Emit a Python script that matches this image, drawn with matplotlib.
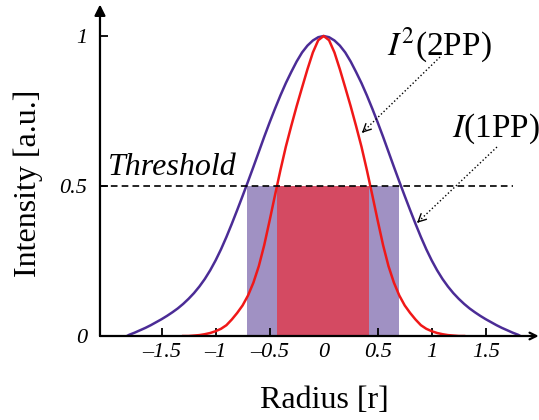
import numpy as np
import matplotlib
matplotlib.use("Agg")
import matplotlib.pyplot as plt

# ------------------------------------------------------------
# 1PP vs 2PP intensity profiles with a 0.5 threshold
# ------------------------------------------------------------

# radius samples (r >= 0) and intensities;
# both profiles are symmetric about r = 0
R_HALF_1PP = [0.0, 0.05, 0.1, 0.15, 0.2, 0.25, 0.3, 0.35, 0.4, 0.45,
              0.5, 0.55, 0.6, 0.65, 0.7, 0.75, 0.8, 0.85, 0.9, 0.95,
              1.0, 1.05, 1.1, 1.15, 1.2, 1.25, 1.3, 1.35, 1.4, 1.45,
              1.5, 1.55, 1.6, 1.65, 1.7, 1.75, 1.8, 1.82]
I_HALF_1PP = [1.000, 0.996, 0.985, 0.968, 0.945, 0.915, 0.880, 0.843, 0.802, 0.758,
              0.712, 0.664, 0.614, 0.564, 0.515, 0.467, 0.420, 0.374, 0.330, 0.289,
              0.252, 0.219, 0.190, 0.165, 0.143, 0.124, 0.107, 0.092, 0.079, 0.067,
              0.056, 0.046, 0.036, 0.027, 0.019, 0.011, 0.004, 0.000]

R_HALF_2PP = [0.0, 0.05, 0.1, 0.15, 0.2, 0.25, 0.3, 0.35, 0.4, 0.45,
              0.5, 0.55, 0.6, 0.65, 0.7, 0.75, 0.8, 0.85, 0.9, 0.95,
              1.0, 1.05, 1.1, 1.15, 1.2, 1.25, 1.3]
I_HALF_2PP = [1.000, 0.986, 0.945, 0.889, 0.828, 0.766, 0.700, 0.631, 0.553, 0.470,
              0.385, 0.303, 0.233, 0.178, 0.135, 0.102, 0.077, 0.055, 0.036, 0.024,
              0.016, 0.010, 0.006, 0.003, 0.0015, 0.000, 0.000]

THRESHOLD = 0.5
BAND_1PP = (-0.71, 0.70)   # where I(1PP) > threshold
BAND_2PP = (-0.43, 0.42)   # where I^2(2PP) > threshold

X_TICKS = [-1.5, -1, -0.5, 0, 0.5, 1, 1.5]
X_TICK_LABELS = ["\u20131.5", "\u20131", "\u20130.5", "0", "0.5", "1", "1.5"]
Y_TICKS = [0, 0.5, 1]
Y_TICK_LABELS = ["0", "0.5", "1"]

PURPLE = "#4b2c96"
RED = "#f01818"
PURPLE_FILL = "#a091c3"
RED_FILL = "#d44a62"


def mirror(r_half, v_half):
    r = np.concatenate([-np.array(r_half[:0:-1]), r_half])
    v = np.concatenate([v_half[:0:-1], v_half])
    return r, v


r1, i1 = mirror(R_HALF_1PP, I_HALF_1PP)
r2, i2 = mirror(R_HALF_2PP, I_HALF_2PP)

SERIF = ["Liberation Serif", "DejaVu Serif"]
plt.rcParams.update({
    "font.family": SERIF,
    "mathtext.fontset": "stix",
})

fig = plt.figure(figsize=(5.39, 4.20), dpi=100, facecolor="white")
ax = fig.add_axes([0.1855, 0.2, 0.8099, 0.7857])
ax.set_xlim(-2.07, 1.97)
ax.set_ylim(0, 1.10)
for s in ax.spines.values():
    s.set_visible(False)

# threshold bands
ax.axvspan(*BAND_1PP, ymin=0, ymax=THRESHOLD / 1.10, color=PURPLE_FILL, lw=0, zorder=1)
ax.axvspan(*BAND_2PP, ymin=0, ymax=THRESHOLD / 1.10, color=RED_FILL, lw=0, zorder=2)

# profiles
ax.plot(r1, i1, color=PURPLE, lw=1.8, zorder=4, solid_joinstyle="round")
ax.plot(r2, i2, color=RED, lw=1.8, zorder=5, solid_joinstyle="round")

# threshold line
ax.plot([-2.07, 1.75], [THRESHOLD, THRESHOLD], color="black", lw=1.2,
        ls=(0, (4, 2.5)), zorder=6, clip_on=False)
ax.text(-2.0, 0.537, "Threshold", fontsize=23, style="italic",
        ha="left", va="baseline")

# axes with arrows
ax.annotate("", xy=(-2.07, 1.105), xytext=(-2.07, 0),
            arrowprops=dict(arrowstyle="-|>", color="black", lw=1.6,
                            mutation_scale=16, shrinkA=0, shrinkB=0),
            annotation_clip=False, zorder=7)
ax.annotate("", xy=(1.99, 0), xytext=(-2.07, 0),
            arrowprops=dict(arrowstyle="->", color="black", lw=1.6,
                            mutation_scale=12, shrinkA=0, shrinkB=0),
            annotation_clip=False, zorder=7)

ax.set_xticks(X_TICKS)
ax.set_xticklabels(X_TICK_LABELS, fontsize=16, style="italic")
ax.set_yticks(Y_TICKS)
ax.set_yticklabels(Y_TICK_LABELS, fontsize=16, style="italic")
ax.tick_params(axis="x", direction="in", length=6, width=1.3, pad=5)
ax.tick_params(axis="y", direction="in", length=6, width=1.3, pad=9)

# curve labels with dotted pointers
ax.text(0.586, 0.937, r"$I^2$(2PP)", fontsize=24, ha="left", va="baseline")
ax.text(1.188, 0.663, r"$I$(1PP)", fontsize=24, ha="left", va="baseline",
        clip_on=False)

for (x0, y0), (x1, y1) in [((1.077, 0.93), (0.354, 0.677)),
                           ((1.604, 0.63), (0.864, 0.377))]:
    ax.plot([x0, x1], [y0, y1], color="black", lw=1.0, ls=":", zorder=8)
    ax.annotate("", xy=(x1, y1),
                xytext=(x1 + (x0 - x1) * 0.02, y1 + (y0 - y1) * 0.02),
                arrowprops=dict(arrowstyle="->", color="black", lw=1.0,
                                mutation_scale=14, shrinkA=0, shrinkB=0),
                zorder=8)

fig.text(28 / 539, 1 - 183 / 420, "Intensity [a.u.]", fontsize=23,
         rotation=90, ha="center", va="center")
fig.text(324 / 539, 1 - 400 / 420, "Radius [r]", fontsize=23,
         ha="center", va="center")

fig.savefig("out.png", dpi=100, facecolor="white")
plt.close(fig)
